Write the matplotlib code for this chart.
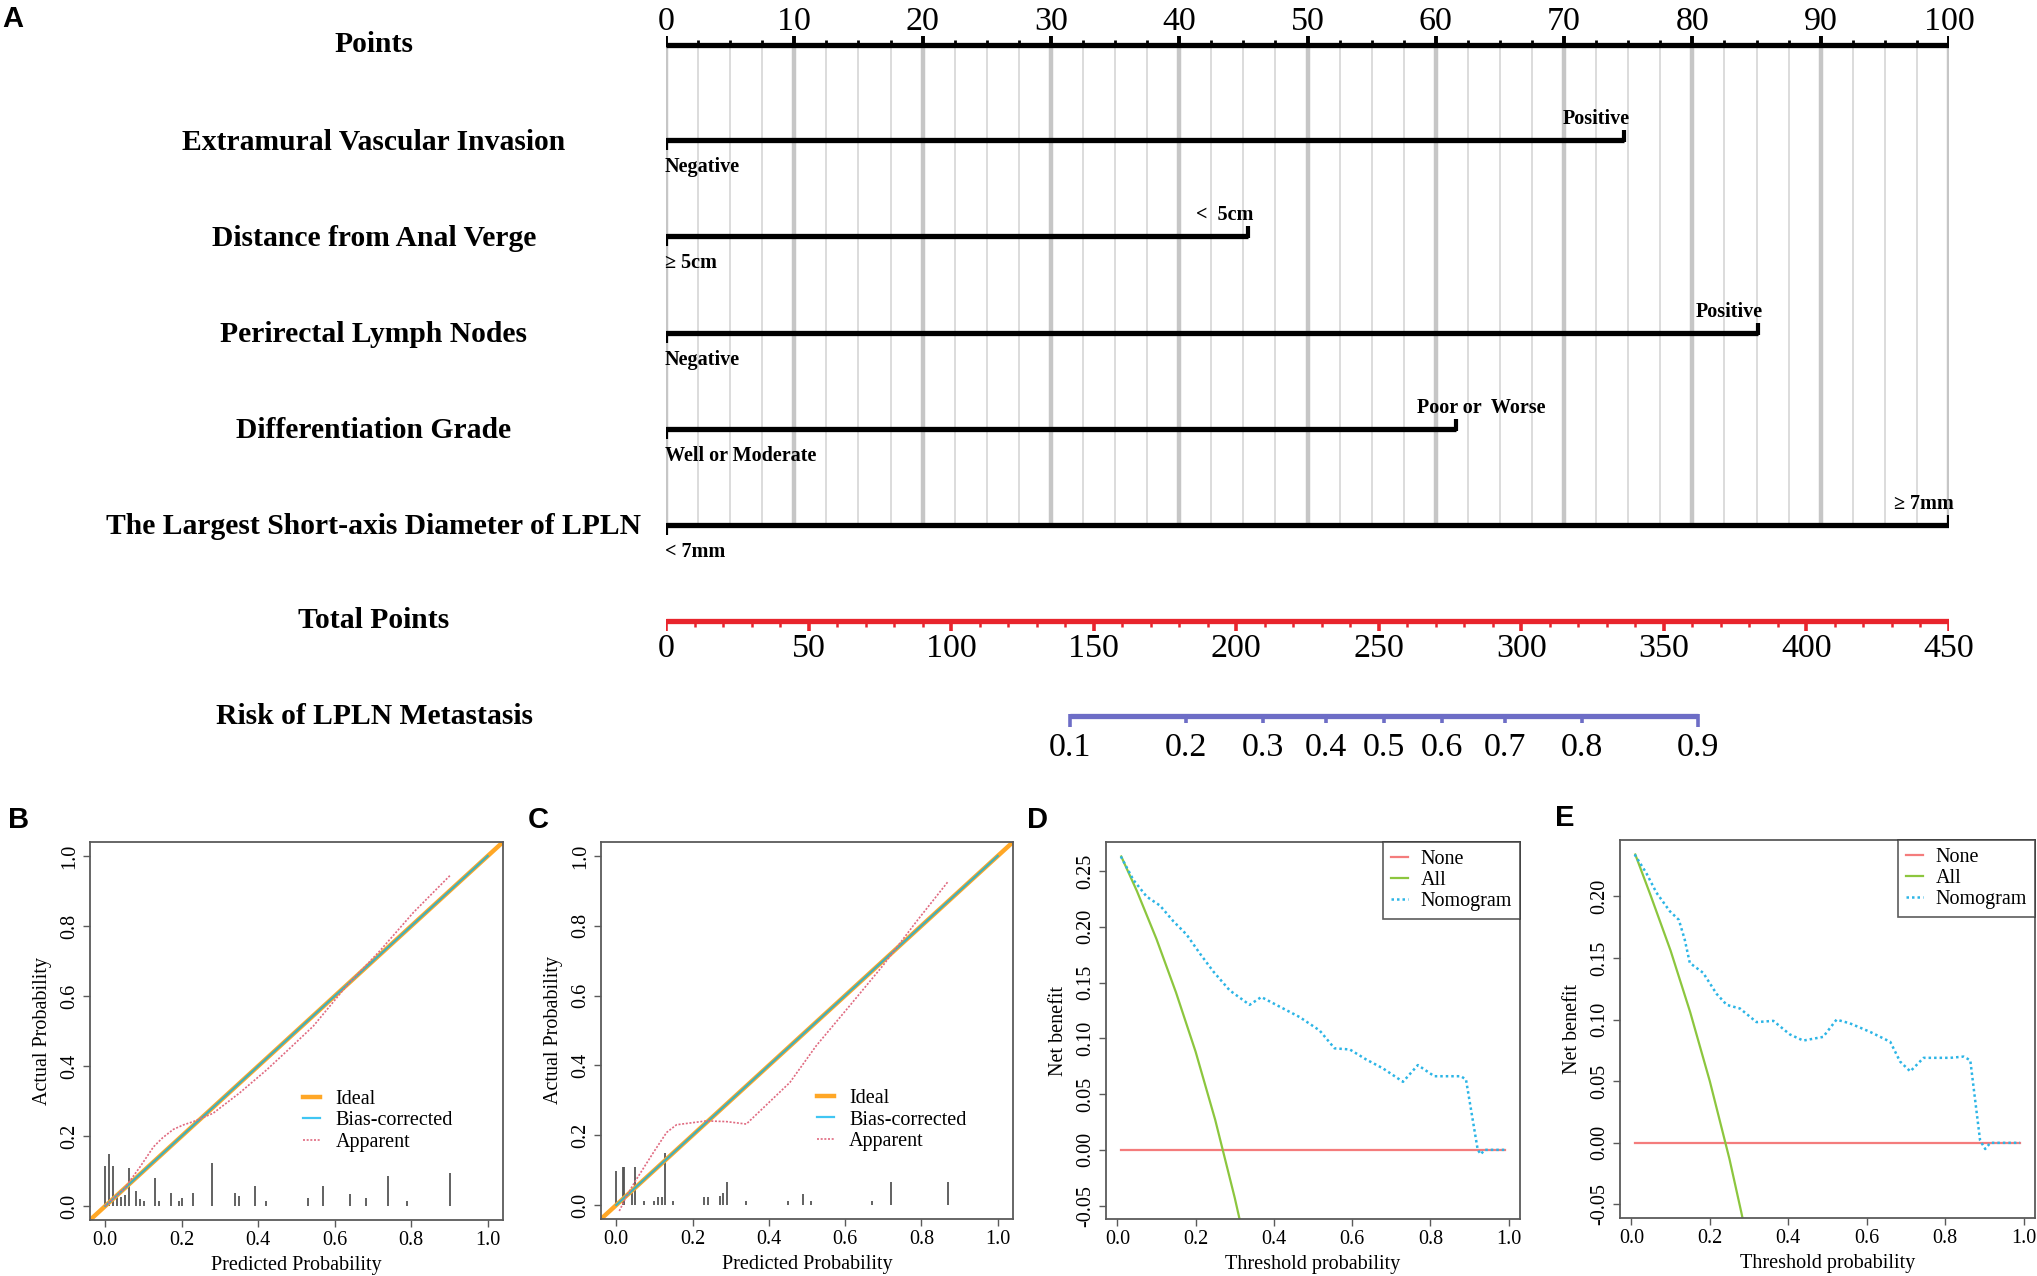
import numpy as np
import matplotlib
matplotlib.use("Agg")
import matplotlib.pyplot as plt
from matplotlib.transforms import blended_transform_factory

# ---------------- data ----------------
variables = ["Extramural Vascular Invasion", "Distance from Anal Verge",
             "Perirectal Lymph Nodes", "Differentiation Grade",
             "The Largest Short-axis Diameter of LPLN"]
low_levels = ["Negative", "\u2265 5cm", "Negative", "Well or Moderate", "< 7mm"]
high_levels = ["Positive", "<  5cm", "Positive", "Poor or  Worse", "\u2265 7mm"]
high_points = [74.7, 45.4, 85.1, 61.6, 100.0]

points_ticks = [0, 10, 20, 30, 40, 50, 60, 70, 80, 90, 100]
total_ticks = [0, 50, 100, 150, 200, 250, 300, 350, 400, 450]
risk_labels = ["0.1", "0.2", "0.3", "0.4", "0.5", "0.6", "0.7", "0.8", "0.9"]
risk_total_points = [141.8, 182.4, 209.4, 231.6, 251.9, 272.2, 294.4, 321.4, 362.0]

# calibration B
b_app_x = [0.0, 0.05, 0.091, 0.126, 0.150, 0.178, 0.205, 0.230, 0.282, 0.35, 0.422,
           0.48, 0.544, 0.631, 0.718, 0.806, 0.903]
b_app_y = [0.0, 0.05, 0.112, 0.169, 0.195, 0.219, 0.232, 0.241, 0.265, 0.322, 0.389,
           0.448, 0.514, 0.629, 0.729, 0.839, 0.946]
b_bias_x = [0.0, 0.25, 0.5, 0.75, 1.0]
b_bias_y = [0.0, 0.25, 0.5, 0.75, 1.0]
b_rug_x = [0.0, 0.010, 0.021, 0.031, 0.041, 0.051, 0.061, 0.080, 0.091, 0.101, 0.130,
           0.141, 0.171, 0.193, 0.201, 0.230, 0.280, 0.340, 0.350, 0.391, 0.419, 0.531,
           0.569, 0.640, 0.681, 0.738, 0.790, 0.901]
b_rug_h = [0.115, 0.150, 0.115, 0.026, 0.026, 0.031, 0.109, 0.043, 0.021, 0.014, 0.080,
           0.014, 0.037, 0.014, 0.024, 0.037, 0.122, 0.037, 0.029, 0.057, 0.014, 0.023,
           0.057, 0.035, 0.023, 0.086, 0.014, 0.093]

# calibration C
c_app_x = [0.008, 0.027, 0.053, 0.10, 0.132, 0.158, 0.236, 0.289, 0.341, 0.455, 0.524,
           0.612, 0.699, 0.786, 0.870]
c_app_y = [-0.017, 0.026, 0.074, 0.155, 0.208, 0.230, 0.241, 0.239, 0.232, 0.351, 0.456,
           0.571, 0.686, 0.811, 0.927]
c_bias_x = [0.0, 0.25, 0.5, 0.75, 1.0]
c_bias_y = [0.0, 0.25, 0.5, 0.75, 1.0]
c_rug_x = [0.0, 0.018, 0.021, 0.041, 0.050, 0.072, 0.100, 0.110, 0.120, 0.129, 0.150,
           0.229, 0.240, 0.271, 0.280, 0.290, 0.340, 0.449, 0.490, 0.510, 0.670, 0.720,
           0.870]
c_rug_h = [0.098, 0.109, 0.109, 0.035, 0.109, 0.011, 0.011, 0.023, 0.023, 0.150, 0.011,
           0.023, 0.023, 0.026, 0.035, 0.066, 0.011, 0.011, 0.033, 0.011, 0.011, 0.066,
           0.066]

# decision curves D
d_none_x = [0.01, 0.99]
d_none_y = [0.0, 0.0]
d_all_x = [0.01, 0.05, 0.10, 0.15, 0.20, 0.25, 0.30, 0.32]
d_all_y = [0.263, 0.232, 0.189, 0.141, 0.088, 0.027, -0.043, -0.074]
d_nom_x = [0.009, 0.041, 0.075, 0.109, 0.143, 0.177, 0.211, 0.245, 0.287, 0.338, 0.368,
           0.406, 0.466, 0.517, 0.555, 0.594, 0.636, 0.679, 0.730, 0.768, 0.810, 0.878,
           0.891, 0.921, 0.929, 0.938, 0.993]
d_nom_y = [0.263, 0.242, 0.227, 0.219, 0.205, 0.193, 0.176, 0.160, 0.143, 0.130, 0.137,
           0.130, 0.119, 0.107, 0.091, 0.090, 0.081, 0.073, 0.061, 0.076, 0.066, 0.066,
           0.063, 0.000, -0.004, 0.000, 0.000]

# decision curves E
e_none_x = [0.01, 0.99]
e_none_y = [0.0, 0.0]
e_all_x = [0.01, 0.05, 0.10, 0.15, 0.20, 0.25, 0.28, 0.30]
e_all_y = [0.234, 0.200, 0.156, 0.106, 0.050, -0.013, -0.056, -0.086]
e_nom_x = [0.0085, 0.038, 0.064, 0.098, 0.121, 0.136, 0.149, 0.183, 0.217, 0.243, 0.277,
           0.319, 0.362, 0.404, 0.438, 0.489, 0.523, 0.557, 0.609, 0.660, 0.685, 0.711,
           0.745, 0.813, 0.847, 0.864, 0.889, 0.902, 0.915, 0.991]
e_nom_y = [0.234, 0.219, 0.203, 0.188, 0.181, 0.165, 0.146, 0.138, 0.121, 0.112, 0.109,
           0.098, 0.099, 0.088, 0.083, 0.086, 0.100, 0.097, 0.090, 0.082, 0.066, 0.058,
           0.069, 0.069, 0.070, 0.067, 0.002, -0.005, 0.000, 0.000]

# ---------------- figure ----------------
W, H = 2037, 1276
DPI = 100
SERIF = ["Liberation Serif", "DejaVu Serif"]
SANS = ["Liberation Sans", "DejaVu Sans"]
plt.rcParams["font.family"] = SERIF

fig = plt.figure(figsize=(W / DPI, H / DPI), dpi=DPI)

# ---------- Panel A: nomogram ----------
NOM_L, NOM_R, NOM_B = 666, 1949, 780
rect = [NOM_L / W, 1 - NOM_B / H, (NOM_R - NOM_L) / W, NOM_B / H]
ax = fig.add_axes(rect)
ax.set_xlim(0, 100)
ax.set_ylim(NOM_B, 0)
ax.axis("off")

POINTS_Y = 45
ROW_Y = [140, 236, 333, 429, 525]
TOTAL_Y = 621
RISK_Y = 716
LABEL_X = 374 / W

# grid
for v in np.arange(0, 100.01, 2.5):
    major = abs(v % 10) < 1e-9
    ax.plot([v, v], [POINTS_Y, ROW_Y[-1]], color="#C6C6C6" if major else "#D9D9D9",
            lw=3.2 if major else 1.3, zorder=0, solid_capstyle="butt")

# points axis
ax.plot([0, 100], [POINTS_Y, POINTS_Y], color="black", lw=3.8, solid_capstyle="butt", zorder=3)
for v in np.arange(0, 100.01, 2.5):
    major = abs(v % 10) < 1e-9
    ax.plot([v, v], [POINTS_Y + 2, POINTS_Y - (9 if major else 5)], color="black",
            lw=2.8 if major else 2.0, solid_capstyle="butt", zorder=3)
for t in points_ticks:
    ax.text(t, 22, str(t), ha="center", va="center", fontsize=24.5)

# variable rows
high_ha = ["right", "right", "right", "left", "right"]
high_dx = [0.4, 0.4, 0.4, -3.1, 0.4]
for i, name in enumerate(variables):
    y = ROW_Y[i]
    hp = high_points[i]
    ax.plot([0, hp], [y, y], color="black", lw=3.8, solid_capstyle="butt", zorder=3)
    ax.plot([0, 0], [y - 2, y + 10], color="black", lw=3.0, solid_capstyle="butt", zorder=3)
    ax.plot([hp, hp], [y + 2, y - 10], color="black", lw=3.0, solid_capstyle="butt", zorder=3)
    ax.text(-0.1, y + 27, low_levels[i], ha="left", va="center", fontsize=14.5,
            fontweight="bold")
    ax.text(hp + high_dx[i], y - 21, high_levels[i], ha=high_ha[i], va="center",
            fontsize=14.5, fontweight="bold")

trans = blended_transform_factory(fig.transFigure, ax.transData)
left_labels = ["Points"] + variables + ["Total Points", "Risk of LPLN Metastasis"]
left_y = [POINTS_Y] + [r + 2 for r in ROW_Y] + [TOTAL_Y, RISK_Y]
for lab, y in zip(left_labels, left_y):
    ax.text(LABEL_X, y, lab, transform=trans, ha="center", va="center", fontsize=21.3,
            fontweight="bold", clip_on=False)

# total points axis and risk axis (own scale over same span)
ax2 = fig.add_axes(rect)
ax2.set_xlim(0, 450)
ax2.set_ylim(NOM_B, 0)
ax2.axis("off")
RED = "#E8242C"
ax2.plot([0, 450], [TOTAL_Y, TOTAL_Y], color=RED, lw=3.8, solid_capstyle="butt")
for v in np.arange(0, 450.01, 10):
    major = abs(v % 50) < 1e-9
    ax2.plot([v, v], [TOTAL_Y - 2, TOTAL_Y + (10 if major else 6)], color=RED,
             lw=2.6 if major else 1.8, solid_capstyle="butt")
for t in total_ticks:
    ax2.text(t, 649, str(t), ha="center", va="center", fontsize=24.5)

BLUE = "#6D6DC6"
ax2.plot([risk_total_points[0], risk_total_points[-1]], [RISK_Y, RISK_Y], color=BLUE,
         lw=3.8, solid_capstyle="butt")
for k, (p, lab) in enumerate(zip(risk_total_points, risk_labels)):
    end = k == 0 or k == len(risk_total_points) - 1
    ax2.plot([p, p], [RISK_Y - 2, RISK_Y + (11 if end else 7)], color=BLUE, lw=2.6,
             solid_capstyle="butt")
    ax2.text(p, 748, lab, ha="center", va="center", fontsize=24.5)

# ---------- bottom panels ----------
SPINE = "#5A5A5A"


def style_axes(ax, xticks, yticks, xlabel, ylabel, yfmt):
    for s in ax.spines.values():
        s.set_color(SPINE)
        s.set_linewidth(1.3)
    ax.set_xticks(xticks)
    ax.set_xticklabels([f"{v:.1f}" for v in xticks])
    ax.set_yticks(yticks)
    ax.set_yticklabels([yfmt.format(v) for v in yticks])
    ax.tick_params(axis="both", direction="out", length=5, width=1.0, color=SPINE,
                   labelsize=14.5, pad=3)
    ax.tick_params(axis="y", labelrotation=90)
    for lab in ax.get_yticklabels():
        lab.set_va("center")
    ax.set_xlabel(xlabel, fontsize=14.5, labelpad=4)
    ax.set_ylabel(ylabel, fontsize=14.5, labelpad=6)


def calib_panel(rect_px, app_x, app_y, bias_x, bias_y, rug_x, rug_h, leg_x):
    l, r, t, b = rect_px
    a = fig.add_axes([l / W, 1 - b / H, (r - l) / W, (b - t) / H])
    a.set_xlim(-0.04, 1.04)
    a.set_ylim(-0.04, 1.04)
    a.axline((0, 0), slope=1, color="#FFA726", lw=3.2, label="Ideal", zorder=2)
    a.plot(bias_x, bias_y, color="#00B4F0", lw=1.6, alpha=0.75, label="Bias-corrected",
           zorder=3)
    a.plot(app_x, app_y, color="#E06A80", lw=1.2, ls=(0, (1.2, 1.0)), label="Apparent",
           zorder=4)
    a.vlines(rug_x, 0, rug_h, color="#555555", lw=1.3, zorder=1)
    style_axes(a, [0, 0.2, 0.4, 0.6, 0.8, 1.0], [0, 0.2, 0.4, 0.6, 0.8, 1.0],
               "Predicted Probability", "Actual Probability", "{:.1f}")
    a.legend(loc="upper left", bbox_to_anchor=(leg_x, 0.345), frameon=False,
             fontsize=14.5, handlelength=0.85, handletextpad=0.75, labelspacing=0.12,
             borderpad=0, borderaxespad=0)
    return a


def dca_panel(rect_px, none_x, none_y, all_x, all_y, nom_x, nom_y, ylim, yticks):
    l, r, t, b = rect_px
    a = fig.add_axes([l / W, 1 - b / H, (r - l) / W, (b - t) / H])
    a.set_xlim(-0.029, 1.029)
    a.set_ylim(*ylim)
    a.plot(none_x, none_y, color="#F47C7C", lw=1.6, label="None")
    a.plot(all_x, all_y, color="#8CC63E", lw=1.6, label="All")
    a.plot(nom_x, nom_y, color="#2CB5E6", lw=1.8, ls=(0, (1.0, 1.2)), label="Nomogram")
    style_axes(a, [0, 0.2, 0.4, 0.6, 0.8, 1.0], yticks, "Threshold probability",
               "Net benefit", "{:.2f}")
    leg = a.legend(loc="upper right", frameon=True, fancybox=False, fontsize=14.5,
                   handlelength=0.85, handletextpad=0.6, labelspacing=0.1,
                   borderpad=0.4, borderaxespad=0)
    leg.get_frame().set_edgecolor("#333333")
    leg.get_frame().set_linewidth(1.2)
    return a


calib_panel((90, 503, 842, 1220), b_app_x, b_app_y, b_bias_x, b_bias_y, b_rug_x, b_rug_h,
            0.516)
calib_panel((601, 1013, 842, 1219), c_app_x, c_app_y, c_bias_x, c_bias_y, c_rug_x,
            c_rug_h, 0.524)
dca_panel((1106, 1520, 842, 1219), d_none_x, d_none_y, d_all_x, d_all_y, d_nom_x, d_nom_y,
          (-0.062, 0.276), [-0.05, 0.0, 0.05, 0.10, 0.15, 0.20, 0.25])
dca_panel((1620, 2035, 840, 1218), e_none_x, e_none_y, e_all_x, e_all_y, e_nom_x, e_nom_y,
          (-0.061, 0.2458), [-0.05, 0.0, 0.05, 0.10, 0.15, 0.20])

# panel letters
for lab, x, y in [("A", 2, 19), ("B", 8, 820), ("C", 528, 820), ("D", 1027, 820),
                  ("E", 1555, 818)]:
    fig.text(x / W, 1 - y / H, lab, fontsize=21, fontweight="bold", family=SANS,
             ha="left", va="center")

fig.savefig("out.png", dpi=DPI)
